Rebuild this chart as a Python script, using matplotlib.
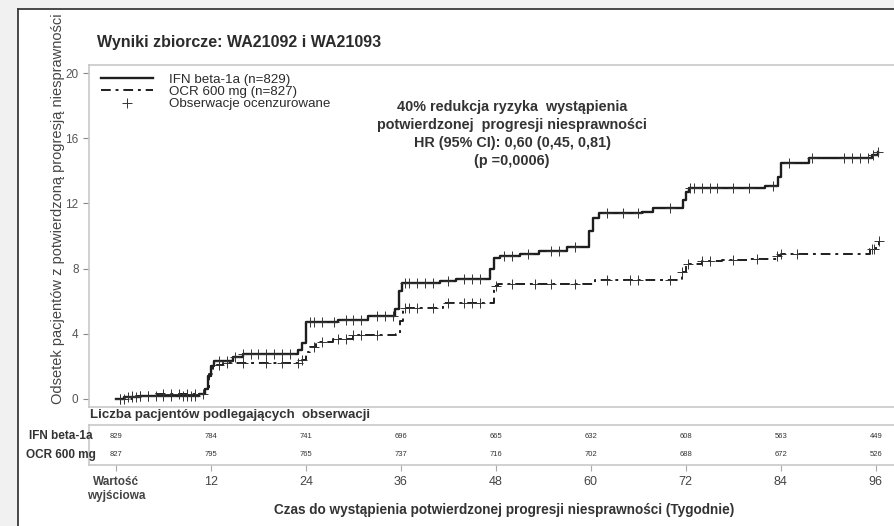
import numpy as np
import matplotlib
matplotlib.use('Agg')
import matplotlib.pyplot as plt
from matplotlib.patches import Rectangle
from matplotlib.lines import Line2D

plt.rcParams['font.family'] = ['Liberation Sans', 'DejaVu Sans']

# krzywe Kaplana-Meiera
ifn_t = [0, 1, 3, 6, 10.5, 11.2, 11.6, 12.0, 12.4, 14.8, 16, 23.0, 23.5, 24.0, 28, 31.8, 35.3,
         35.8, 36.2, 41, 43, 47.3, 47.8, 48.5, 51, 53.5, 57, 59.8, 60.3, 61, 66.5, 67.8, 71.6,
         72.0, 72.4, 82, 83.6, 84.0, 87.6, 95.5, 96.3]
ifn_y = [0, 0.1, 0.15, 0.2, 0.3, 0.6, 1.4, 2.0, 2.3, 2.6, 2.75, 3.0, 3.4, 4.7, 4.85, 5.1, 5.5,
         6.6, 7.1, 7.25, 7.35, 8.0, 8.65, 8.8, 8.9, 9.1, 9.3, 10.3, 11.1, 11.4, 11.5, 11.7, 12.2,
         12.7, 12.95, 13.1, 13.6, 14.5, 14.8, 15.0, 15.15]
ocr_t = [0, 2, 5, 11.3, 11.8, 12.3, 13.5, 23.5, 24.0, 24.5, 25.3, 27.4, 30, 35.4, 35.9, 36.3,
         41.3, 47.8, 48.3, 60.5, 71.5, 72.0, 74, 76.6, 79.7, 83.5, 84, 95.3, 96, 96.4]
ocr_y = [0, 0.2, 0.3, 0.6, 1.5, 2.1, 2.2, 2.4, 2.9, 3.2, 3.5, 3.7, 3.9, 4.0, 4.8, 5.6,
         5.9, 6.9, 7.05, 7.3, 7.8, 8.3, 8.45, 8.5, 8.6, 8.8, 8.9, 9.2, 9.3, 9.7]

# obserwacje ocenzurowane
ifn_cens = [0.5, 1.5, 2, 2.5, 3, 4, 5, 6, 7, 8.5, 9, 9.5, 10, 13, 14, 15, 16, 17, 18, 19, 20,
            21, 22, 24.5, 25, 26, 27.5, 29, 30, 31, 33, 34, 35, 36.5, 37, 38, 39, 40, 42, 44, 45,
            46, 49, 50, 52, 55, 56, 58, 62, 64, 66, 70, 72.5, 73, 74, 75, 76, 78, 80, 83, 85, 88,
            92, 93, 94, 95, 95.7, 96.3]
ocr_cens = [0.5, 1, 2, 3, 4, 6, 7, 8, 9, 10, 11, 13, 14, 16, 19, 21, 23, 23.5, 25, 26, 28, 29,
            30, 31, 33, 36.5, 37, 38, 40, 42, 44, 45, 46, 48, 50, 53, 55, 58, 62, 65, 66, 70,
            71.5, 72.3, 74, 75, 78, 81, 83.5, 84, 86, 95.5, 95.8, 96.4]

weeks = [0, 12, 24, 36, 48, 60, 72, 84, 96]
week_labels = ['Wartość\nwyjściowa', '12', '24', '36', '48', '60', '72', '84', '96']
risk_ifn = [829, 784, 741, 696, 665, 632, 608, 563, 449]
risk_ocr = [827, 795, 765, 737, 716, 702, 688, 672, 526]

W, H = 895, 526
fig = plt.figure(figsize=(W / 100, H / 100), dpi=100, facecolor='#f1f1f1')

# biały panel z ciemną krawędzią u góry i z lewej
fig.patches.append(Rectangle((18 / W, 0), 1, 1 - 9 / H, transform=fig.transFigure,
                             facecolor='white', edgecolor='none', zorder=-5))
fig.add_artist(Line2D([18 / W, 1], [1 - 9 / H, 1 - 9 / H], color='#3a3a3a', lw=1.3))
fig.add_artist(Line2D([18 / W, 18 / W], [0, 1 - 9 / H], color='#3a3a3a', lw=1.3))

grey = '#c8c8c8'
txt = '#2b2b2b'
XLIM = (-3.41, 100.2)

ax = fig.add_axes([89 / W, 1 - 407 / H, 820 / W, 342 / H])
ax.set_facecolor('white')
for s in ax.spines.values():
    s.set_color(grey)
    s.set_linewidth(1.2)
ax.set_xlim(XLIM)
ax.set_ylim(-0.5, 20.5)
ax.set_yticks([0, 4, 8, 12, 16, 20])
ax.set_xticks([])
ax.tick_params(axis='y', colors='#888888', labelcolor='#555555', labelsize=8.5, length=4)


def step_val(t, ts, ys):
    i = np.searchsorted(ts, t, side='right') - 1
    return np.asarray(ys)[i]


ax.step(ifn_t, ifn_y, where='post', color='#1e1e1e', lw=1.7)
ax.step(ocr_t, ocr_y, where='post', color='#1e1e1e', lw=1.4,
        linestyle=(0, (5, 2.5, 1.5, 2.5)))
ax.plot(ifn_cens, step_val(ifn_cens, ifn_t, ifn_y), '+', color='#333333', ms=6.5, mew=0.7)
ax.plot(ocr_cens, step_val(ocr_cens, ocr_t, ocr_y), '+', color='#333333', ms=6.5, mew=0.7)

handles = [Line2D([], [], color='#1e1e1e', lw=1.7),
           Line2D([], [], color='#1e1e1e', lw=1.4, linestyle=(0, (5, 2.5, 1.5, 2.5))),
           Line2D([], [], color='#333333', marker='+', ls='none', ms=6.5, mew=0.7)]
ax.legend(handles, ['IFN beta-1a (n=829)', 'OCR 600 mg (n=827)', 'Obserwacje ocenzurowane'],
          loc='upper left', bbox_to_anchor=(0.0, 1.011), frameon=False, fontsize=9.6,
          handlelength=3.9, handletextpad=1.2, labelspacing=0.0, labelcolor=txt)

ax.text(0.516, 0.898,
        '40% redukcja ryzyka  wystąpienia\npotwierdzonej  progresji niesprawności\n'
        'HR (95% CI): 0,60 (0,45, 0,81)\n(p =0,0006)',
        transform=ax.transAxes, ha='center', va='top', fontsize=10.4, fontweight='bold',
        color='#333333', linespacing=1.36)

ax.set_ylabel('Odsetek pacjentów z potwierdzoną progresją niesprawności', fontsize=10.5,
              color='#444444')
ax.yaxis.set_label_coords(-0.029, 0.58)

fig.text(97 / W, 1 - 43 / H, 'Wyniki zbiorcze: WA21092 i WA21093', fontsize=11.5,
         fontweight='bold', color=txt, va='center')

# tabela liczby pacjentów
fig.text(90 / W, 1 - 415 / H, 'Liczba pacjentów podlegających  obserwacji', fontsize=9.5,
         fontweight='bold', color='#333333', va='center')

tab = fig.add_axes([89 / W, 1 - 465 / H, 820 / W, 40 / H])
tab.set_xlim(XLIM)
tab.set_ylim(0, 2)
for s in tab.spines.values():
    s.set_color(grey)
    s.set_linewidth(1.2)
tab.set_yticks([])
tab.set_xticks(weeks)
tab.set_xticklabels(week_labels)
tab.tick_params(axis='x', colors='#aaaaaa', labelcolor='#444444', labelsize=9, length=4, pad=4)
tab.get_xticklabels()[0].set_fontweight('bold')
tab.get_xticklabels()[0].set_fontsize(8.5)
for w, a, b in zip(weeks, risk_ifn, risk_ocr):
    tab.text(w, 1.45, str(a), ha='center', va='center', fontsize=5.5, color='#333333')
    tab.text(w, 0.5, str(b), ha='center', va='center', fontsize=5.5, color='#333333')
tab.text(0.004, 0.73, 'IFN beta-1a', transform=tab.transAxes, ha='right', va='center',
         fontsize=8.5, fontweight='bold', color='#333333')
tab.text(0.008, 0.25, 'OCR 600 mg', transform=tab.transAxes, ha='right', va='center',
         fontsize=8.5, fontweight='bold', color='#333333')

fig.text(504 / W, 1 - 510 / H, 'Czas do wystąpienia potwierdzonej progresji niesprawności (Tygodnie)',
         ha='center', va='center', fontsize=9.8, fontweight='bold', color='#333333')

fig.savefig('out.png', dpi=100, facecolor=fig.get_facecolor())
